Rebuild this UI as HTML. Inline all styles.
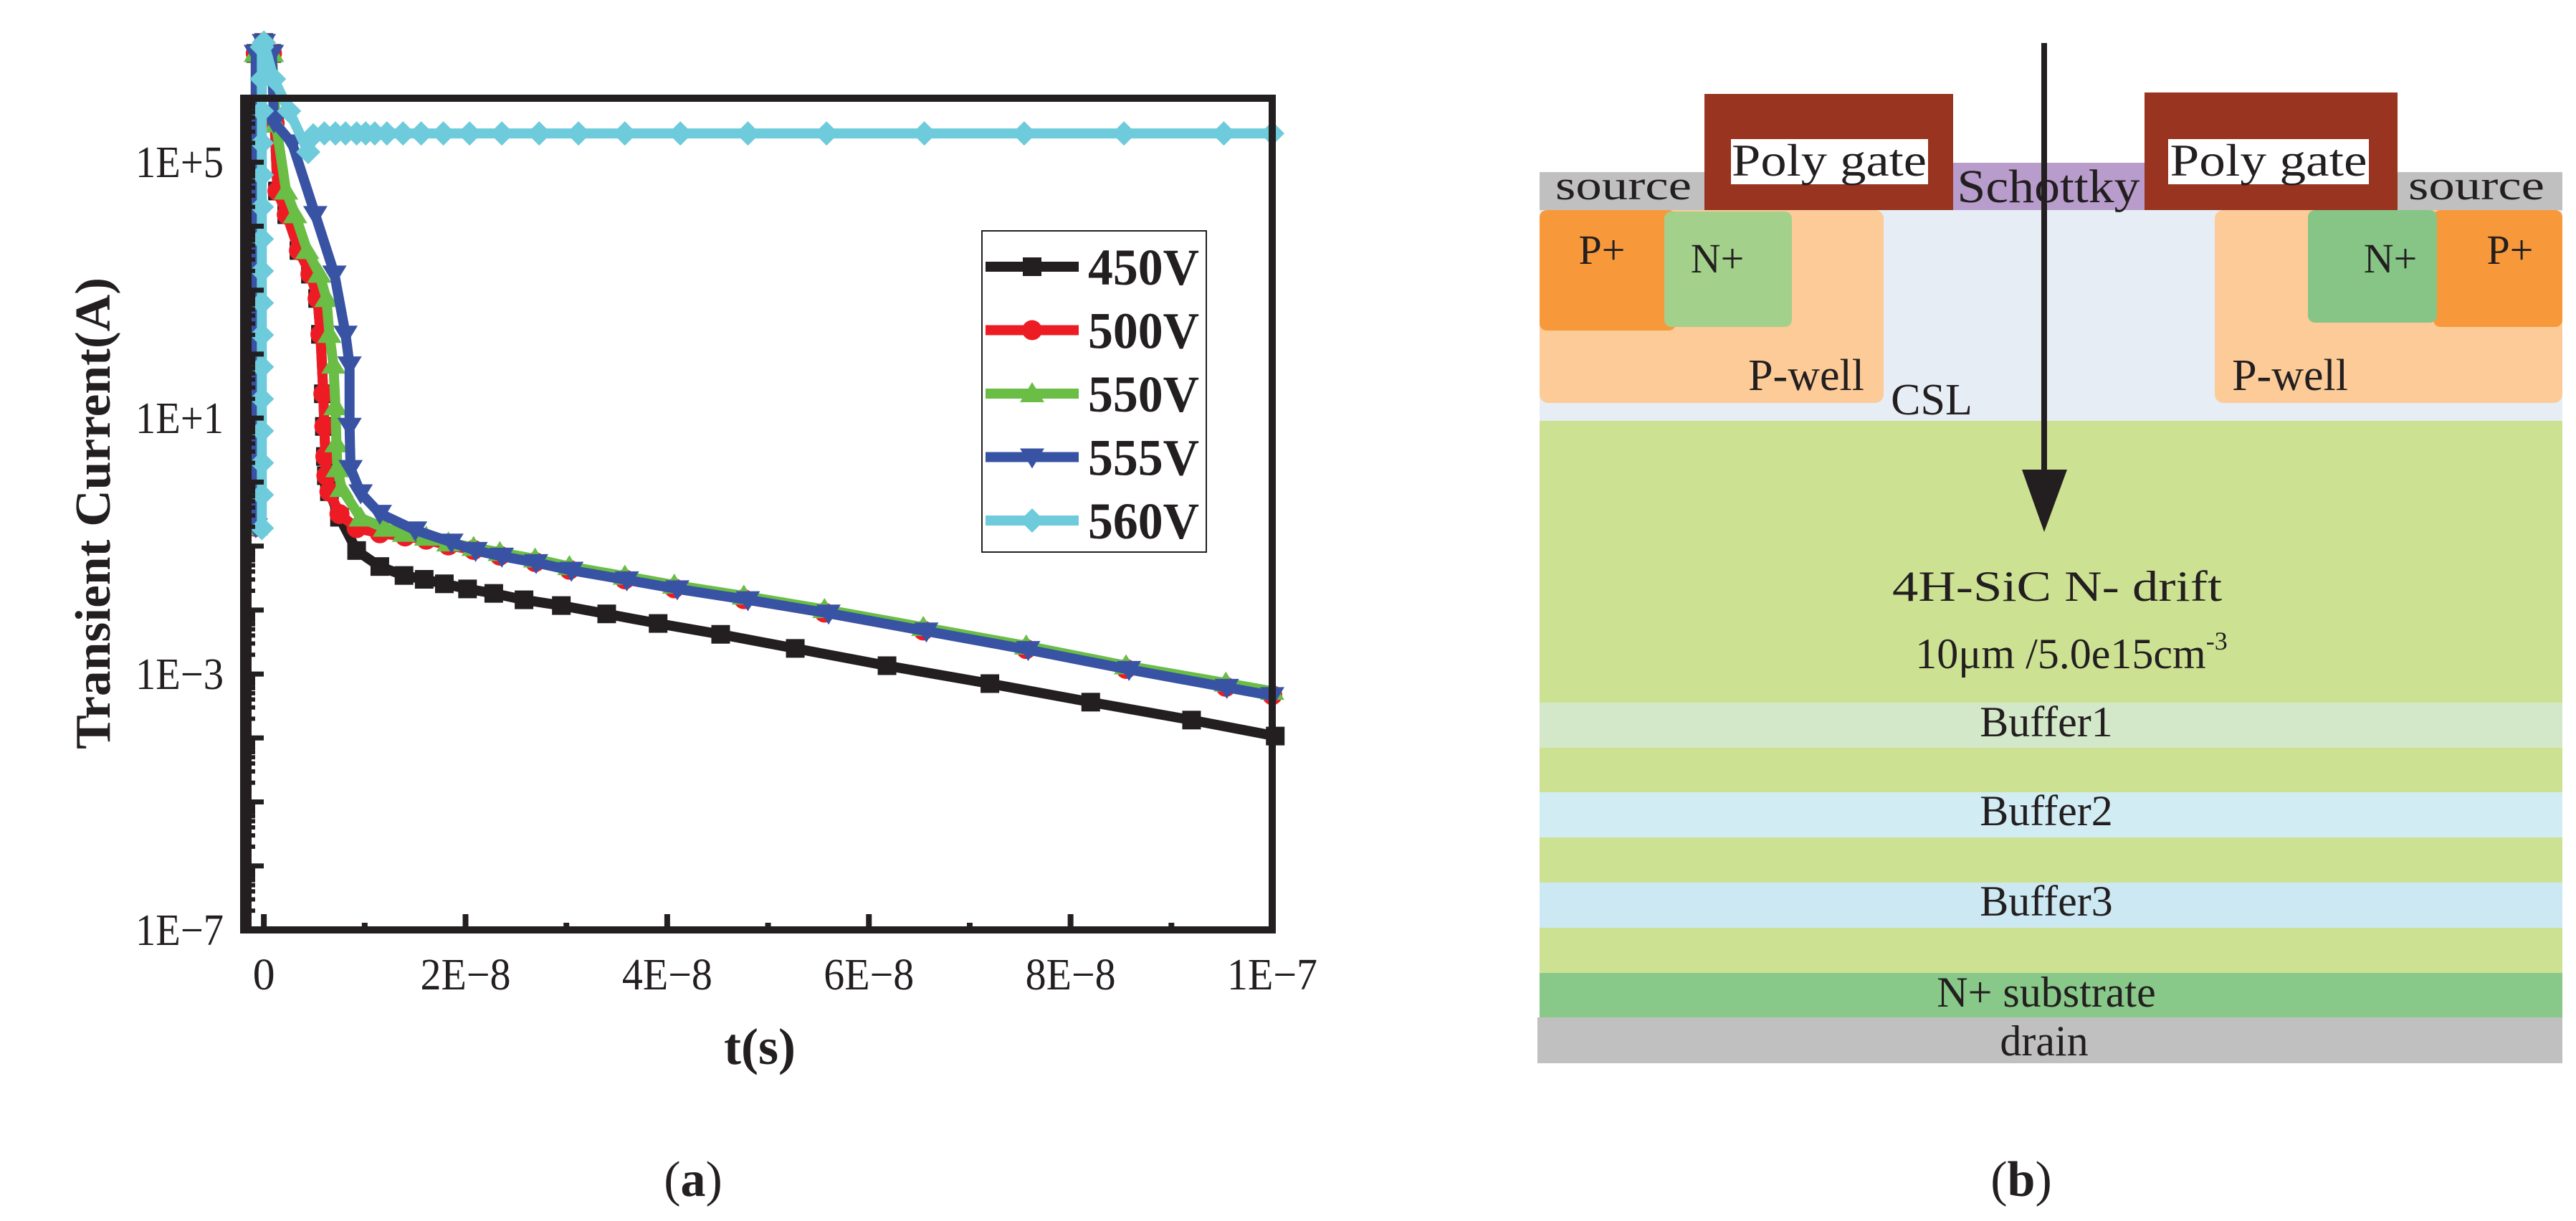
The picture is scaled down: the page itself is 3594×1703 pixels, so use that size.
<!DOCTYPE html>
<html><head><meta charset="utf-8"><style>
html,body{margin:0;padding:0;background:#fff;}
svg{display:block;font-family:"Liberation Serif","Noto Serif CJK SC",serif;}
text{font-family:"Liberation Serif","Noto Serif CJK SC",serif;fill:#231f20;}
</style></head><body>
<svg id="fig" width="3594" height="1703" viewBox="0 0 3594 1703" xmlns="http://www.w3.org/2000/svg" font-family="Liberation Serif, serif">
<g id="chart"></g>
<text x="967" y="1668" font-size="70" text-anchor="middle">(<tspan font-weight="bold">a</tspan>)</text>

<g id="device">
  <rect x="2148" y="293" width="1427" height="294" fill="#e6edf5"/>
  <rect x="2148" y="293" width="480" height="269" rx="12" fill="#fccb98"/>
  <rect x="3090" y="293" width="485" height="269" rx="12" fill="#fccb98"/>
  <rect x="2148" y="293" width="190" height="168" rx="10" fill="#f7993a"/>
  <rect x="2322" y="295" width="178" height="161" rx="10" fill="#a3d18b"/>
  <rect x="3395" y="293" width="180" height="163" rx="10" fill="#f7993a"/>
  <rect x="3220" y="293" width="180" height="157" rx="10" fill="#86c586"/>
  <rect x="2148" y="587" width="1427" height="393" fill="#cde193"/>
  <rect x="2148" y="980" width="1427" height="63" fill="#d3e8c8"/>
  <rect x="2148" y="1043" width="1427" height="62" fill="#cde193"/>
  <rect x="2148" y="1105" width="1427" height="63" fill="#d2ecf3"/>
  <rect x="2148" y="1168" width="1427" height="63" fill="#cde193"/>
  <rect x="2148" y="1231" width="1427" height="63" fill="#cce8f3"/>
  <rect x="2148" y="1294" width="1427" height="63" fill="#cde193"/>
  <rect x="2148" y="1357" width="1427" height="62" fill="#88c888"/>
  <rect x="2145" y="1419" width="1430" height="64" fill="#c0c0c0"/>
  <rect x="2148" y="240" width="232" height="53" fill="#c0c0c0"/>
  <rect x="3345" y="240" width="230" height="53" fill="#c0c0c0"/>
  <rect x="2725" y="227" width="267" height="66" fill="#b89ccb"/>
  <rect x="2378" y="131" width="347" height="162" fill="#98341f"/>
  <rect x="2415" y="194" width="275" height="63" fill="#fff"/>
  <rect x="2992" y="129" width="353" height="164" fill="#98341f"/>
  <rect x="3025" y="194" width="280" height="63" fill="#fff"/>
  <g font-size="58">
    <text x="2265" y="278" text-anchor="middle" textLength="190" lengthAdjust="spacingAndGlyphs">source</text>
    <text x="3455" y="278" text-anchor="middle" textLength="190" lengthAdjust="spacingAndGlyphs">source</text>
    <text x="2552" y="245" text-anchor="middle" font-size="64" textLength="272" lengthAdjust="spacingAndGlyphs">Poly gate</text>
    <text x="3165" y="245" text-anchor="middle" font-size="64" textLength="275" lengthAdjust="spacingAndGlyphs">Poly gate</text>
    <text x="2858" y="282" text-anchor="middle" font-size="66" textLength="255" lengthAdjust="spacingAndGlyphs">Schottky</text>
    <text x="2235" y="368" text-anchor="middle">P+</text>
    <text x="2396" y="380" text-anchor="middle">N+</text>
    <text x="3335" y="380" text-anchor="middle">N+</text>
    <text x="3502" y="368" text-anchor="middle">P+</text>
    <text x="2520" y="544" text-anchor="middle" font-size="62">P-well</text>
    <text x="3195" y="544" text-anchor="middle" font-size="62">P-well</text>
    <text x="2695" y="578" text-anchor="middle" font-size="62">CSL</text>
    <text x="2870" y="838" text-anchor="middle" font-size="60" textLength="460" lengthAdjust="spacingAndGlyphs">4H-SiC N- drift</text>
    <text x="2890" y="932" text-anchor="middle" font-size="60">10μm /5.0e15cm<tspan font-size="36" dy="-26">-3</tspan></text>
    <text x="2855" y="1027" text-anchor="middle" font-size="60">Buffer1</text>
    <text x="2855" y="1151" text-anchor="middle" font-size="60">Buffer2</text>
    <text x="2855" y="1277" text-anchor="middle" font-size="60">Buffer3</text>
    <text x="2855" y="1404" text-anchor="middle" font-size="60">N+ substrate</text>
    <text x="2852" y="1472" text-anchor="middle" font-size="60">drain</text>
  </g>
  <line x1="2852" y1="60" x2="2852" y2="660" stroke="#231f20" stroke-width="8"/>
  <polygon points="2821,655 2884,655 2852,742" fill="#231f20"/>
</g>
<text x="2820" y="1668" font-size="70" text-anchor="middle">(<tspan font-weight="bold">b</tspan>)</text>
</svg>
<script>
// time in ns, current as log10(A)
const t450 = [-0.8,-0.8,0,0.8,1.07,1.35,2.27,3.48,4.62,5.33,5.61,5.9,6.0,6.1,6.2,6.5,7.5,9.2,11.5,13.9,15.9,17.9,20.2,22.8,25.8,29.5,34.0,39.1,45.3,52.7,61.8,72.0,82.0,92.0,100.3];
const y450 = [-0.7,6.7,6.87,6.7,5.61,4.55,4.18,3.62,3.25,2.87,2.31,1.38,0.87,0.4,0.1,-0.15,-0.55,-1.07,-1.32,-1.46,-1.52,-1.59,-1.67,-1.74,-1.84,-1.93,-2.06,-2.21,-2.38,-2.6,-2.87,-3.15,-3.44,-3.72,-3.97];
const t500 = [-0.8,-0.8,0,0.8,1.07,1.35,2.27,3.48,4.62,5.33,5.61,5.9,6.0,6.1,6.2,6.5,7.5,9.2,11.5,14.0,16.1,18.3,20.8,23.4,26.9,30.3,35.8,40.7,47.6,55.6,65.4,75.6,85.5,95.4,100.0];
const y500 = [-0.7,6.7,6.87,6.7,5.61,4.55,4.18,3.62,3.25,2.87,2.31,1.38,0.87,0.4,0.1,-0.15,-0.5,-0.72,-0.8,-0.85,-0.9,-0.99,-1.06,-1.15,-1.25,-1.37,-1.52,-1.66,-1.83,-2.04,-2.32,-2.61,-2.92,-3.2,-3.33];
const t550 = [-0.8,-0.8,0,0.8,1.2,2.2,3.1,4.3,5.5,6.2,6.5,6.9,7.1,7.2,7.3,7.7,9.6,12.0,13.9,16.1,18.3,20.8,23.4,26.9,30.3,35.8,40.7,47.6,55.6,65.4,75.6,85.5,95.4,100.0];
const y550 = [-0.7,6.7,6.87,6.7,5.6,4.55,4.18,3.62,3.25,2.87,2.31,1.83,1.18,0.6,0.21,-0.1,-0.56,-0.72,-0.8,-0.86,-0.95,-1.02,-1.1,-1.2,-1.32,-1.47,-1.61,-1.78,-1.99,-2.27,-2.56,-2.87,-3.14,-3.27];
const t555 = [-0.8,-0.8,0,0.8,1.0,2.8,5.1,7.0,8.1,8.5,8.5,8.6,9.6,11.5,15.0,18.6,21.0,23.6,27.0,30.5,36.0,41.0,48.0,56.0,65.7,75.8,85.8,95.5,100.0];
const y555 = [-0.7,6.7,6.87,6.7,5.63,5.3,4.18,3.25,2.31,1.83,0.87,0.21,-0.17,-0.49,-0.75,-0.94,-1.07,-1.16,-1.26,-1.38,-1.53,-1.67,-1.84,-2.05,-2.33,-2.62,-2.93,-3.21,-3.34];
const t560 = [-0.2,-0.2,-0.2,-0.2,-0.2,-0.2,-0.2,-0.2,-0.2,-0.2,-0.2,-0.2,-0.2,-0.2,-0.2,-0.2,0,1.0,2.5,4.4,4.9,6.0,7.1,8.1,9.2,10.1,11.0,12.2,13.8,15.6,17.8,20.4,23.6,27.3,31.2,35.8,41.3,48.0,55.8,65.5,75.4,85.3,95.2,100.0];
const y560 = [-0.72,-0.2,0.3,0.8,1.3,1.8,2.3,2.8,3.3,3.8,4.3,4.8,5.3,5.8,6.3,6.8,6.87,6.3,5.8,5.16,5.42,5.45,5.45,5.45,5.45,5.45,5.45,5.45,5.45,5.45,5.45,5.45,5.45,5.45,5.45,5.45,5.45,5.45,5.45,5.45,5.45,5.45,5.45,5.45];
const xTickValues = [0,20,40,60,80,100];
const xTickLabels = ["0","2E\u22128","4E\u22128","6E\u22128","8E\u22128","1E\u22127"];
const yTickValues = [5,1,-3,-7];
const yTickLabels = ["1E+5","1E+1","1E\u22123","1E\u22127"];
const seriesNames = ["450V","500V","550V","555V","560V"];

const NS = "http://www.w3.org/2000/svg";
const X0 = 340, X1 = 1775, Y0 = 137, Y1 = 1297;
const tMin = -2, tMax = 100, lMin = -7, lMax = 6;
function xs(t){ return X0 + (t - tMin) / (tMax - tMin) * (X1 - X0); }
function ys(l){ return Y1 - (l - lMin) / (lMax - lMin) * (Y1 - Y0); }
const g = document.getElementById('chart');
function mk(tag, attrs, parent){ const e = document.createElementNS(NS, tag); for (const k in attrs) e.setAttribute(k, attrs[k]); (parent || g).appendChild(e); return e; }

const colors = ["#231f20","#ed1c24","#6abd45","#3953a4","#6dcbdb"];
const shapes = ["square","circle","up","down","diamond"];
function marker(shape, x, y, color, parent){
  let e;
  if (shape === "square") e = mk('rect', {x:x-13,y:y-13,width:26,height:26,fill:color}, parent);
  else if (shape === "circle") e = mk('circle', {cx:x,cy:y,r:14,fill:color}, parent);
  else if (shape === "up") e = mk('polygon', {points:`${x},${y-16} ${x+17},${y+12} ${x-17},${y+12}`,fill:color}, parent);
  else if (shape === "down") e = mk('polygon', {points:`${x-17},${y-12} ${x+17},${y-12} ${x},${y+16}`,fill:color}, parent);
  else e = mk('polygon', {points:`${x},${y-17} ${x+17},${y} ${x},${y+17} ${x-17},${y}`,fill:color}, parent);
  return e;
}
const allT = [t450,t500,t550,t555,t560], allY = [y450,y500,y550,y555,y560];
for (let s = 0; s < 5; s++){
  const sg = mk('g', {});
  
  
  const d = allT[s].map((t,i)=>(i?'L':'M')+xs(t).toFixed(1)+','+ys(allY[s][i]).toFixed(1)).join(' ');
  const p = mk('path', {d:d, fill:'none', stroke:colors[s], 'stroke-width':14, 'stroke-linejoin':'round'}, sg);
  
  
  allT[s].forEach((t,i)=>{
    const m = marker(shapes[s], xs(t), ys(allY[s][i]), colors[s], sg);
    
    
  });
}
// frame
const fr = mk('rect', {x:X0, y:Y0, width:X1-X0, height:Y1-Y0, fill:'none', stroke:'#231f20', 'stroke-width':10});


const lb2 = mk('line', {x1:X0+3, x2:X0+3, y1:Y0-5, y2:Y1+5, stroke:'#231f20', 'stroke-width':16});


// y ticks
for (let dec = lMin; dec < lMax; dec++){
  const tk = mk('line', {x1:X0, x2:X0+28, y1:ys(dec), y2:ys(dec), stroke:'#231f20', 'stroke-width':7});
  
  
  for (let m = 2; m <= 9; m++){
    const yy = ys(dec + Math.log10(m));
    const mt = mk('line', {x1:X0, x2:X0+16, y1:yy, y2:yy, stroke:'#231f20', 'stroke-width':6});
    
    
  }
}
yTickValues.forEach((v,i)=>{
  const tx = mk('text', {x:312, y:ys(v)+21, 'font-size':62, 'text-anchor':'end', textLength:123, lengthAdjust:'spacingAndGlyphs'});
  tx.textContent = yTickLabels[i];
  
  
});
for (let v = 0; v <= 100; v += 10){
  const major = (v % 20 === 0);
  const tk = mk('line', {x1:xs(v), x2:xs(v), y1:Y1, y2:Y1-(major?22:10), stroke:'#231f20', 'stroke-width':8});
  
  
}
xTickValues.forEach((v,i)=>{
  const attrs = {x:xs(v), y:1380, 'font-size':62, 'text-anchor':'middle'};
  if (i > 0){ attrs.textLength = 126; attrs.lengthAdjust = 'spacingAndGlyphs'; }
  const tx = mk('text', attrs);
  tx.textContent = xTickLabels[i];
  
  
});
const xt = mk('text', {x:1060, y:1484, 'font-size':72, 'font-weight':'bold', 'text-anchor':'middle'});
xt.textContent = 't(s)';


const yt = mk('text', {x:0, y:0, 'font-size':70, 'font-weight':'bold', 'text-anchor':'middle', textLength:658, lengthAdjust:'spacingAndGlyphs', transform:'translate(153,716) rotate(-90)'});
yt.textContent = 'Transient Current(A)';


// legend
const lg = mk('g', {});


const lb = mk('rect', {x:1370, y:322, width:313, height:448, fill:'#fff', stroke:'#231f20', 'stroke-width':2}, lg);


seriesNames.forEach((n,i)=>{
  const cy = 372 + i*88.5;
  const eg = mk('g', {}, lg);
  
  
  mk('line', {x1:1375, x2:1505, y1:cy, y2:cy, stroke:colors[i], 'stroke-width':14}, eg);
  marker(shapes[i], 1440, cy, colors[i], eg);
  const tx = mk('text', {x:1518, y:cy+25, 'font-size':72, 'font-weight':'bold', textLength:155, lengthAdjust:'spacingAndGlyphs'}, eg);
  tx.textContent = n;
});
</script>
</body></html>
